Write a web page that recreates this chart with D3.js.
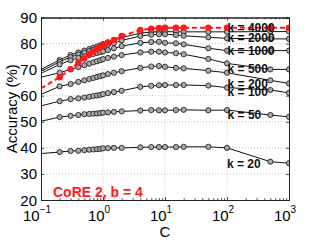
<!DOCTYPE html>
<html>
<head>
<meta charset="utf-8">
<script src="https://cdn.jsdelivr.net/npm/d3@7"></script>
<style>
  body { margin: 0; background: #fff; }
  text { font-family: "Liberation Sans", Arial, sans-serif; }
</style>
</head>
<body>
<div id="chart"></div>
<script>
// C values (x) and accuracy (%) for each k
var cValues = [0.1, 0.2, 0.3, 0.4, 0.5, 0.6, 0.7, 0.8, 0.9, 1, 1.2, 1.5, 2, 4, 6, 8, 10, 15, 20, 50, 100, 500, 1000];

var kLabels = ['k = 4000', 'k = 2000', 'k = 1000', 'k = 500', 'k = 200', 'k = 100', 'k = 50', 'k = 20'];

var acc4000 = [70.1, 73.7, 75.6, 76.6, 77.3, 77.9, 78.4, 78.8, 79.3, 79.8, 80.5, 81.2, 82.3, 84.0, 84.4, 84.6, 84.6, 84.5, 84.5, 84.5, 84.5, 84.6, 84.6];
var acc2000 = [69.4, 73.0, 74.8, 75.8, 76.5, 77.1, 77.6, 78.0, 78.4, 78.8, 79.5, 80.2, 81.2, 82.9, 83.4, 83.6, 83.6, 83.3, 83.0, 82.4, 82.0, 81.8, 81.8];
var acc1000 = [68.6, 72.0, 73.6, 74.5, 75.1, 75.6, 76.0, 76.4, 76.7, 77.0, 77.5, 78.2, 79.0, 80.3, 80.6, 80.7, 80.3, 80.1, 79.7, 78.2, 77.3, 77.3, 77.3];
var acc500 = [67.1, 68.8, 70.1, 71.0, 71.7, 72.3, 72.8, 73.2, 73.6, 74.0, 74.5, 75.0, 75.6, 76.6, 76.9, 76.9, 76.6, 76.3, 75.9, 74.1, 72.4, 70.1, 70.1];
var acc200 = [60.5, 63.6, 64.5, 65.3, 65.9, 66.4, 66.8, 67.2, 67.5, 67.8, 68.3, 68.8, 69.4, 70.7, 71.2, 71.4, 71.1, 70.7, 70.5, 69.6, 68.8, 65.9, 64.7];
var acc100 = [56.1, 57.9, 58.7, 59.0, 59.3, 59.6, 59.9, 60.1, 60.3, 60.6, 61.0, 61.4, 61.9, 63.4, 63.8, 64.0, 64.1, 64.1, 64.1, 63.9, 63.1, 62.2, 61.1];
var acc50 = [50.2, 51.8, 52.3, 52.6, 52.9, 53.0, 53.1, 53.2, 53.3, 53.5, 53.6, 53.8, 54.0, 54.3, 54.5, 54.4, 54.4, 54.5, 54.6, 54.4, 54.5, 52.6, 51.9];
var acc20 = [37.8, 38.4, 38.8, 38.9, 39.1, 39.3, 39.4, 39.5, 39.6, 39.8, 39.9, 40.0, 40.0, 40.2, 40.3, 40.3, 40.3, 40.3, 40.4, 40.4, 40.0, 34.7, 34.1];

// red dashed series
var accRed = [62.8, 67.1, 70.2, 72.7, 74.3, 75.9, 76.9, 77.8, 78.6, 79.5, 80.3, 81.4, 82.9, 85.2, 85.7, 86.0, 86.1, 86.1, 86.1, 86.1, 86.1, 86.1, 86.1];

// label anchor (C, accuracy) for each k
var labelC = [102, 102, 102, 102, 102, 102, 102, 100];
var labelAcc = [86.1, 82.0, 77.3, 70.1, 64.6, 61.3, 52.6, 33.8];

var xTicks = [0.1, 1, 10, 100, 1000];
var xTickExp = ['\u22121', '0', '1', '2', '3'];
var yTicks = [20, 30, 40, 50, 60, 70, 80, 90];

var series = [acc4000, acc2000, acc1000, acc500, acc200, acc100, acc50, acc20];

///////////////////////////////////////////////////////////////////////////
/////////////////// set up svg and scales /////////////////////////////////
///////////////////////////////////////////////////////////////////////////
var width = 319;
var height = 240;
var margin = {top: 17.5, right: 30, bottom: 40, left: 41};
var plotW = width - margin.left - margin.right;
var plotH = height - margin.top - margin.bottom;

var svg = d3.select('#chart')
  .append('svg')
  .attr('width', width).attr('height', height);

var x = d3.scaleLog().domain([0.1, 1000]).range([margin.left, margin.left + plotW]);
var y = d3.scaleLinear().domain([20, 90]).range([margin.top + plotH, margin.top]);

svg.append('defs').append('clipPath').attr('id', 'clip')
  .append('rect')
  .attr('x', margin.left).attr('y', margin.top)
  .attr('width', plotW).attr('height', plotH);

///////////////////////////////////////////////////////////////////////////
/////////////////// grid, box and ticks ///////////////////////////////////
///////////////////////////////////////////////////////////////////////////
var grid = svg.append('g')
  .attr('stroke', '#999')
  .attr('stroke-width', 0.6)
  .attr('stroke-dasharray', '1,2');

grid.selectAll('.gx')
  .data(xTicks.slice(1, -1))
  .enter().append('line')
  .attr('x1', d => x(d)).attr('x2', d => x(d))
  .attr('y1', margin.top).attr('y2', margin.top + plotH);

grid.selectAll('.gy')
  .data(yTicks.slice(1, -1))
  .enter().append('line')
  .attr('x1', margin.left).attr('x2', margin.left + plotW)
  .attr('y1', d => y(d)).attr('y2', d => y(d));

// bottom / top axes with minor log ticks
var minorTicks = x.ticks().filter(d => xTicks.indexOf(d) < 0);

var xAxisBottom = svg.append('g')
  .attr('transform', 'translate(0,' + (margin.top + plotH) + ')')
  .call(d3.axisBottom(x).tickValues(xTicks).tickSize(-3).tickFormat(''));
xAxisBottom.append('g')
  .call(d3.axisBottom(x).tickValues(minorTicks).tickSize(-1.8).tickFormat(''));

var xAxisTop = svg.append('g')
  .attr('transform', 'translate(0,' + margin.top + ')')
  .call(d3.axisTop(x).tickValues(xTicks).tickSize(-3).tickFormat(''));
xAxisTop.append('g')
  .call(d3.axisTop(x).tickValues(minorTicks).tickSize(-1.8).tickFormat(''));

svg.append('g')
  .attr('transform', 'translate(' + margin.left + ',0)')
  .call(d3.axisLeft(y).tickValues(yTicks).tickSize(-3).tickFormat(''));
svg.append('g')
  .attr('transform', 'translate(' + (margin.left + plotW) + ',0)')
  .call(d3.axisRight(y).tickValues(yTicks).tickSize(-3).tickFormat(''));

svg.selectAll('.domain').attr('stroke', '#222').attr('stroke-width', 1);
svg.selectAll('.tick line').attr('stroke', '#222').attr('stroke-width', 0.8);

// tick labels
svg.selectAll('.ylab')
  .data(yTicks)
  .enter().append('text')
  .attr('x', margin.left - 4)
  .attr('y', d => y(d) + 5.5)
  .attr('text-anchor', 'end')
  .attr('font-size', 15)
  .text(d => d);

var xl = svg.selectAll('.xlab')
  .data(xTicks)
  .enter().append('text')
  .attr('x', d => x(d) - 4)
  .attr('y', margin.top + plotH + 21)
  .attr('text-anchor', 'middle')
  .attr('font-size', 15);
xl.append('tspan').text('10');
xl.append('tspan')
  .attr('font-size', 10)
  .attr('dy', -8)
  .text((d, i) => xTickExp[i]);

svg.append('text')
  .attr('x', margin.left + plotW / 2)
  .attr('y', 237)
  .attr('text-anchor', 'middle')
  .attr('font-size', 15)
  .text('C');

svg.append('text')
  .attr('transform', 'translate(17,' + (margin.top + plotH / 2) + ') rotate(-90)')
  .attr('text-anchor', 'middle')
  .attr('font-size', 15)
  .text('Accuracy (%)');

///////////////////////////////////////////////////////////////////////////
/////////////////// lines and markers /////////////////////////////////////
///////////////////////////////////////////////////////////////////////////
var line = d3.line()
  .x((d, i) => x(cValues[i]))
  .y(d => y(d));

var plot = svg.append('g').attr('clip-path', 'url(#clip)');

series.forEach(function(vals) {
  plot.append('path')
    .attr('d', line(vals))
    .attr('fill', 'none')
    .attr('stroke', '#111')
    .attr('stroke-width', 1);

  plot.selectAll(null)
    .data(vals.filter((d, i) => cValues[i] > 0.1).map((d, i) => [cValues[i + 1], d]))
    .enter().append('circle')
    .attr('cx', d => x(d[0]))
    .attr('cy', d => y(d[1]))
    .attr('r', 2.6)
    .attr('fill', '#aaa')
    .attr('stroke', '#222')
    .attr('stroke-width', 0.9);
});

plot.append('path')
  .attr('d', line(accRed))
  .attr('fill', 'none')
  .attr('stroke', '#ff1a1a')
  .attr('stroke-width', 2)
  .attr('stroke-dasharray', '5,3');

plot.selectAll(null)
  .data(accRed.filter((d, i) => cValues[i] > 0.1).map((d, i) => [cValues[i + 1], d]))
  .enter().append('circle')
  .attr('cx', d => x(d[0]))
  .attr('cy', d => y(d[1]))
  .attr('r', 3.2)
  .attr('fill', '#ff1a1a');

// k labels
svg.selectAll('.klab')
  .data(kLabels)
  .enter().append('text')
  .attr('x', (d, i) => x(labelC[i]))
  .attr('y', (d, i) => y(labelAcc[i]) + 4)
  .attr('font-size', 12)
  .attr('font-weight', 'bold')
  .attr('fill', '#111')
  .text(d => d);

svg.append('text')
  .attr('x', 53)
  .attr('y', 197)
  .attr('font-size', 14)
  .attr('font-weight', 'bold')
  .attr('fill', '#ff1a1a')
  .text('CoRE 2, b = 4');
</script>
</body>
</html>
